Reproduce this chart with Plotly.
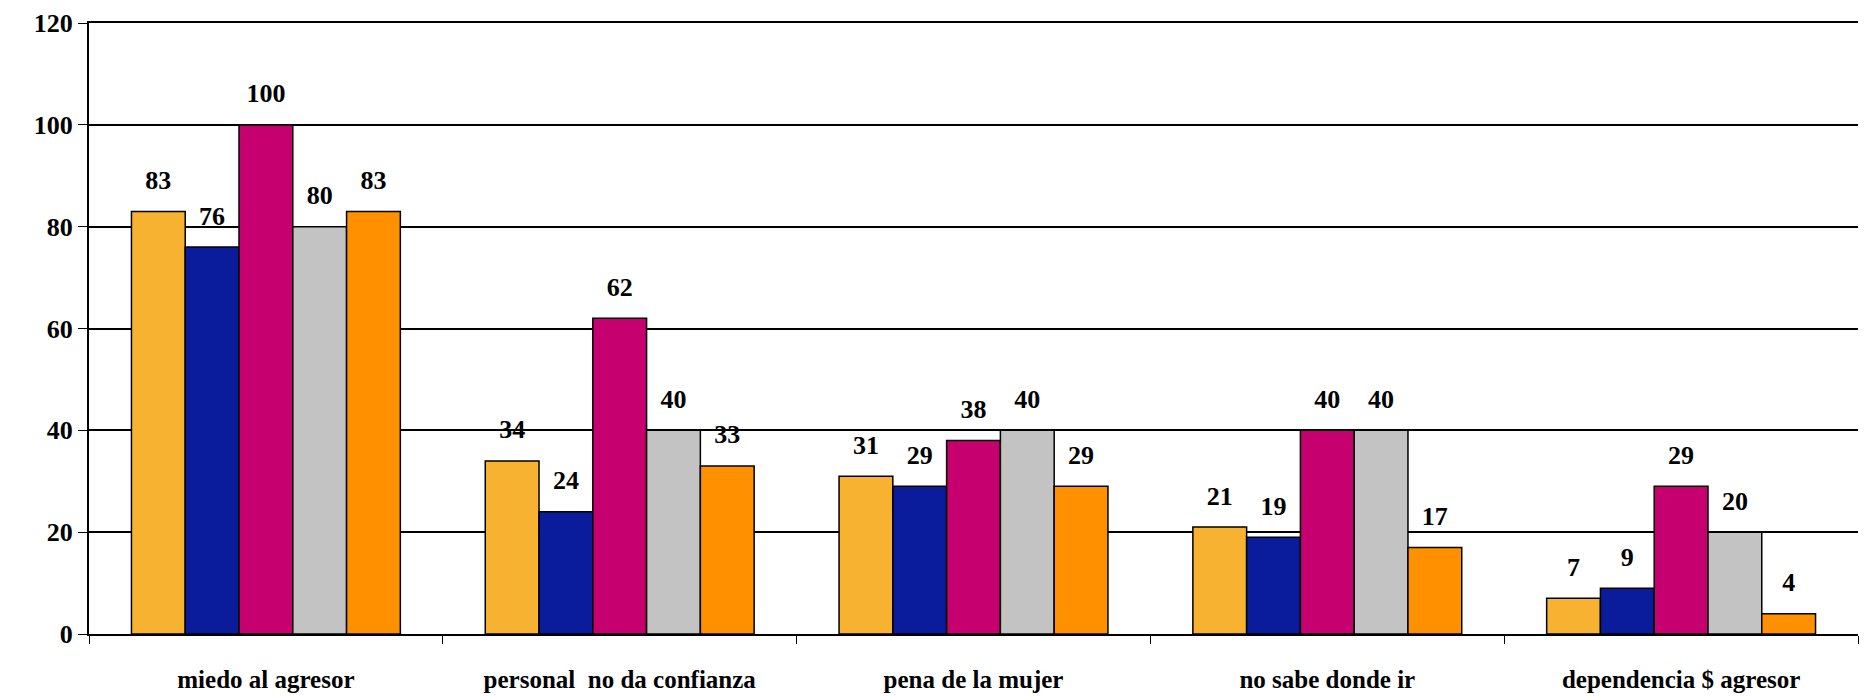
import plotly.graph_objects as go

categories = ["miedo al agresor", "personal\u00a0 no da confianza", "pena de la mujer",
              "no sabe donde ir", "dependencia $ agresor"]
serie_1 = [83, 34, 31, 21, 7]
serie_2 = [76, 24, 29, 19, 9]
serie_3 = [100, 62, 38, 40, 29]
serie_4 = [80, 40, 40, 40, 20]
serie_5 = [83, 33, 29, 17, 4]
colors = ["#F7B231", "#0A1B9C", "#C6006E", "#C3C3C3", "#FF9100"]

font = "Liberation Serif"
series = [serie_1, serie_2, serie_3, serie_4, serie_5]

fig = go.Figure()
for i, (vals, col) in enumerate(zip(series, colors)):
    fig.add_trace(go.Bar(
        x=categories, y=vals,
        marker=dict(color=col, line=dict(color="black", width=1.5)),
        offsetgroup=str(i),
        cliponaxis=False,
    ))
# value labels, grouped the same way as the bars
for i, vals in enumerate(series):
    fig.add_trace(go.Scatter(
        x=categories, y=vals, mode="text+markers",
        marker=dict(size=24, opacity=0),
        text=[str(v) for v in vals],
        textposition="top center",
        textfont=dict(family=font, size=26, color="black", weight="bold"),
        offsetgroup=str(i),
        cliponaxis=False, hoverinfo="skip",
    ))

fig.update_layout(
    width=1868, height=696,
    margin=dict(l=81, r=18, t=15, b=70),
    paper_bgcolor="white", plot_bgcolor="white",
    showlegend=False,
    barmode="group", bargap=0.24, bargroupgap=0,
    scattermode="group", scattergap=0.24,
    font=dict(family=font, size=25, color="black", weight="bold"),
    xaxis=dict(showline=True, linecolor="black", linewidth=2, mirror=True,
               ticks="outside", tickson="boundaries", ticklen=8, tickcolor="black",
               ticklabelstandoff=22, automargin=False,
               tickfont=dict(family=font, size=25, color="black", weight="bold")),
    yaxis=dict(range=[0, 120.01], dtick=20, showline=True, linecolor="black", linewidth=2,
               showgrid=True, gridcolor="black", gridwidth=1.5,
               ticks="outside", ticklen=9, tickcolor="black",
               zeroline=False, automargin=False, ticklabeloverflow="allow",
               tickfont=dict(family=font, size=26, color="black", weight="bold")),
)

fig.write_html("out.html")
